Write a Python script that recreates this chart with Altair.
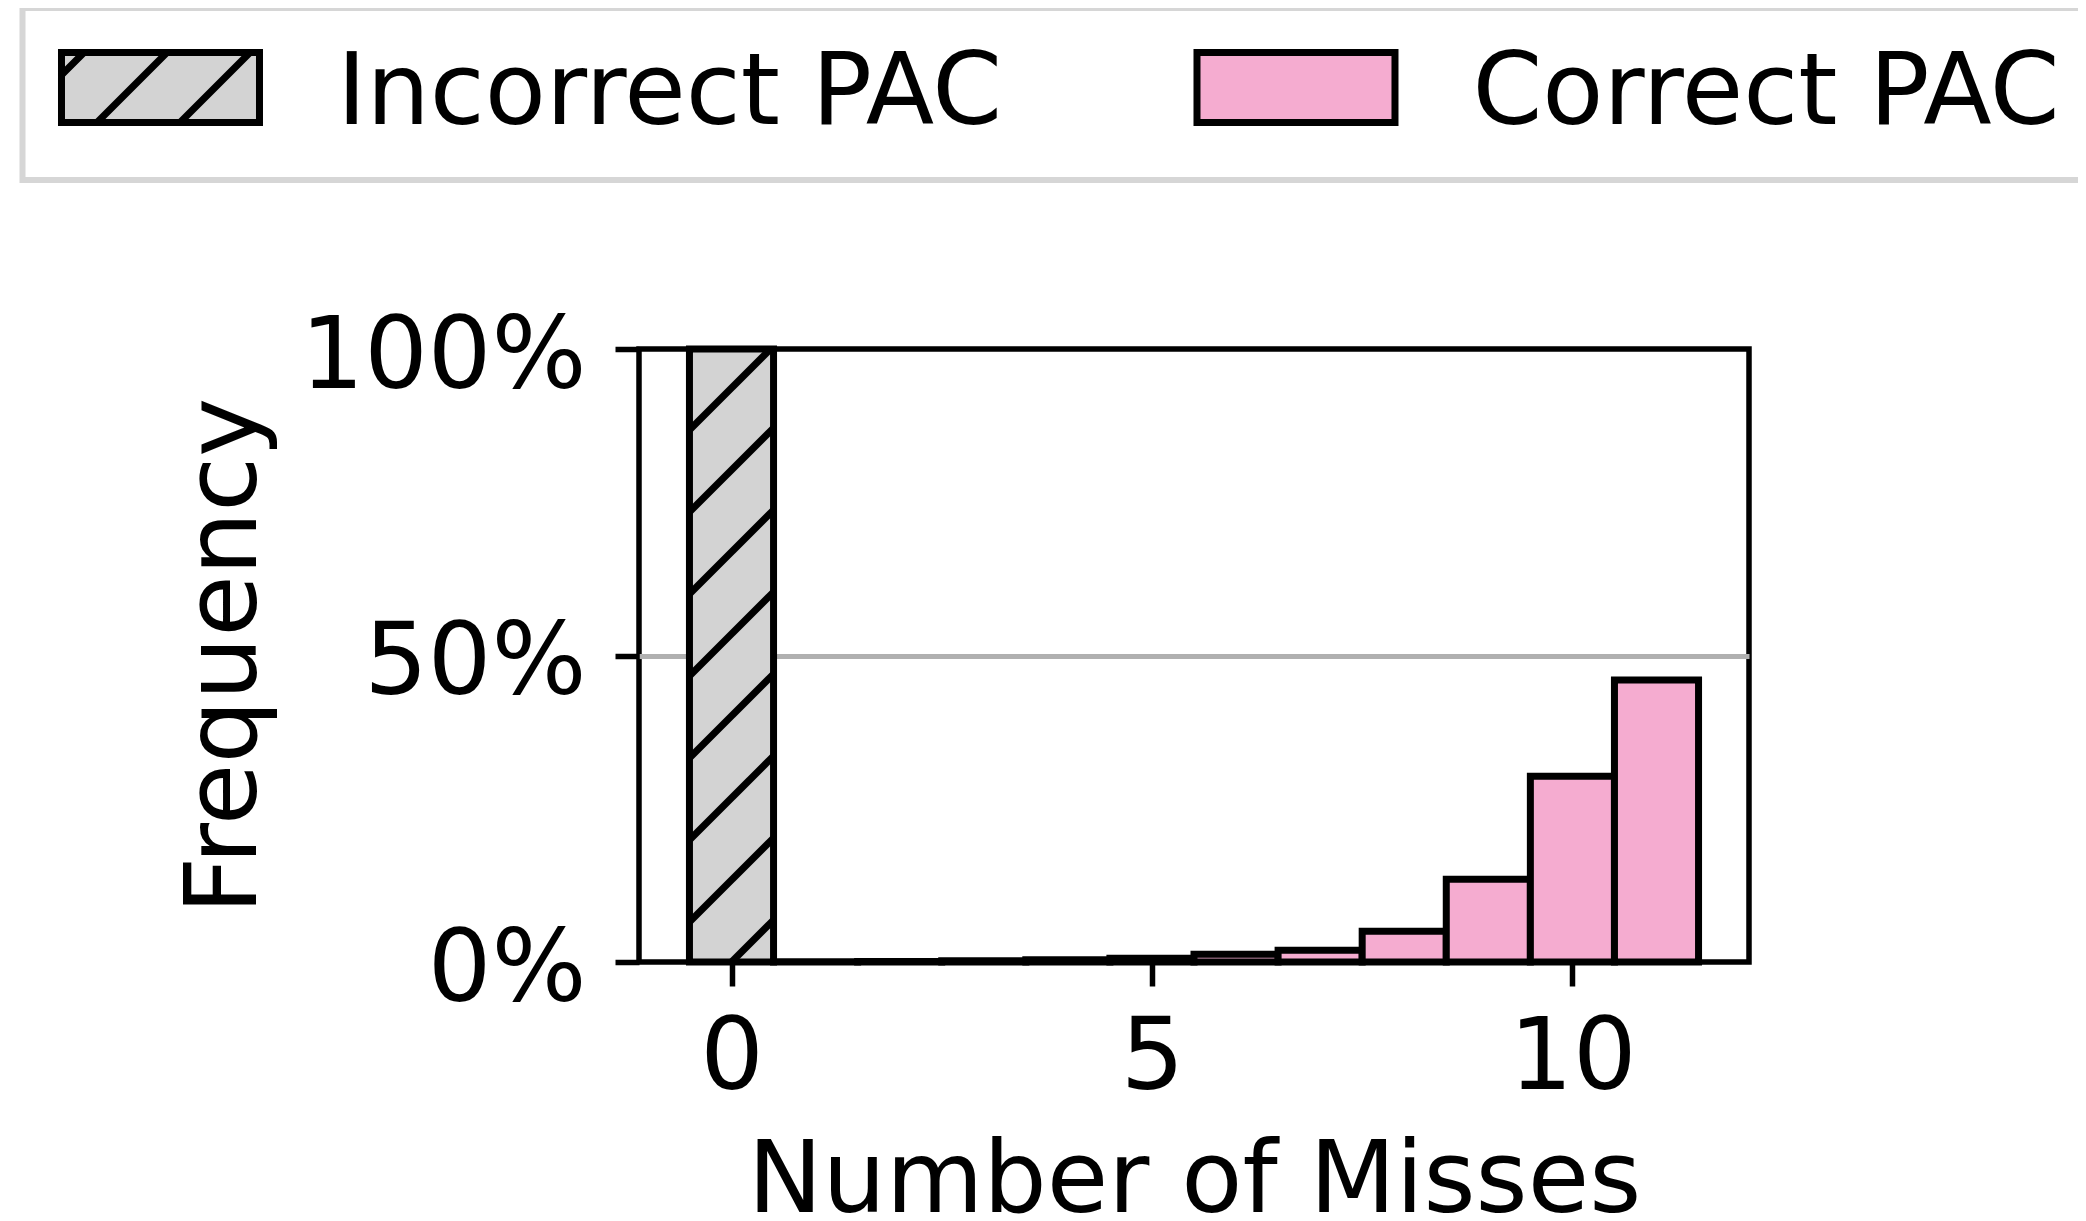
import math
import altair as alt
import pandas as pd

# ---------------- data ----------------
misses = list(range(12))
incorrect_pct = [100.0, 0, 0, 0, 0, 0, 0, 0, 0, 0, 0, 0]
correct_pct = [0.0, 0.05, 0.1, 0.2, 0.35, 0.6, 1.25, 1.9, 5.0, 13.5, 30.3, 46.0]
categories = ["Incorrect PAC", "Correct PAC"]
colors = ["#d3d3d3", "#f5acd0"]
x_ticks = [0, 5, 10]
y_ticks = [0, 50, 100]

rows = []
for m, a, b in zip(misses, incorrect_pct, correct_pct):
    if a > 0:
        rows.append({"miss": m, "cat": categories[0], "pct": a})
    if b > 0:
        rows.append({"miss": m, "cat": categories[1], "pct": b})
bars = pd.DataFrame(rows)

# ---------------- geometry / style ----------------
W, H = 1110, 613
XDOM = [-1.1, 12.1]
PX_X = W / (XDOM[1] - XDOM[0])
PX_Y = H / 100.0
HATCH_PX = 82
FONT = "DejaVu Sans"


def hatch(x_lo, x_hi, y_lo, y_hi, slope, spacing, x0):
    """segments of lines y = slope*(x-x0) + k*spacing clipped to a box"""
    segs = []
    kmin = math.floor((y_lo - slope * (x_hi - x0)) / spacing) - 1
    kmax = math.ceil((y_hi - slope * (x_lo - x0)) / spacing) + 1
    for k in range(kmin, kmax + 1):
        c = k * spacing
        xa = max(x_lo, x0 + (y_lo - c) / slope)
        xb = min(x_hi, x0 + (y_hi - c) / slope)
        if xb - xa > 1e-9:
            segs.append((xa, slope * (xa - x0) + c, xb, slope * (xb - x0) + c))
    return segs


# hatch of the incorrect-PAC bar (45 degrees on screen)
hrows = []
for _, r in bars[bars["cat"] == categories[0]].iterrows():
    for (xa, ya, xb, yb) in hatch(r["miss"] - 0.5, r["miss"] + 0.5, 0, r["pct"],
                                  PX_X / PX_Y, HATCH_PX / PX_Y, r["miss"]):
        hrows.append({"hx": xa, "hy": ya, "hx2": xb, "hy2": yb})
hdf = pd.DataFrame(hrows)

# legend swatch paths (symbol units: 35 px, centre of symbol at (108.5, 94))
S = 35.0
CX, CY = 108.5, 94.0
RX0, RX1, RY0, RY1 = 61.5, 259.5, 52.5, 122.5


def u(x, y):
    return f"{(x - CX) / S:.3f},{(y - CY) / S:.3f}"


rect_path = f"M{u(RX0, RY0)}L{u(RX1, RY0)}L{u(RX1, RY1)}L{u(RX0, RY1)}Z"
hpath = ""
for (xa, ya, xb, yb) in hatch(RX0, RX1, -RY1, -RY0, 1.0, 83.0, 97 + RY1):
    hpath += f"M{u(xa, -ya)}L{u(xb, -yb)}"
sym_expr = (f"datum.value == '{categories[0]}' ? '{rect_path}{hpath}' : '{rect_path}'")

# ---------------- chart ----------------
xscale = alt.Scale(domain=XDOM, nice=False, zero=False)
yscale = alt.Scale(domain=[0, 100], nice=False, zero=True)

x_axis = alt.Axis(values=x_ticks, format="d", title="Number of Misses",
                  grid=False, labelPadding=23, titlePadding=24, labelLimit=1000)
y_axis = alt.Axis(values=y_ticks, labelExpr="datum.value + '%'",
                  title="Frequency", grid=True, gridColor="#b0b0b0",
                  gridWidth=5,
                  gridOpacity=alt.condition("datum.value == 50",
                                            alt.value(1), alt.value(0)),
                  labelPadding=29, labelOffset=8, labelLimit=1000,
                  titleX=-363, titleY=H / 2, titleAngle=270,
                  titleBaseline="bottom", titleAlign="center")

legend = alt.Legend(
    title=None,
    orient="none",
    legendX=22.5 - 639,
    legendY=8 - 349,
    direction="horizontal",
    columns=2,
    columnPadding=179.5,
    padding=36,
    strokeColor="#d6d6d6",
    fillColor="white",
    cornerRadius=0,
    symbolType={"expr": sym_expr},
    symbolSize=S * S * 4,
    symbolStrokeWidth=7,
    symbolStrokeColor="black",
    symbolOffset=0,
    labelOffset=178.5,
    labelFont=FONT,
    labelFontSize=100,
    labelColor="black",
    labelLimit=3000,
)

bar_layer = (
    alt.Chart(bars)
    .transform_calculate(x0="datum.miss - 0.5", x1="datum.miss + 0.5")
    .mark_rect(stroke="black", strokeWidth=7)
    .encode(
        x=alt.X("x0:Q", scale=xscale, axis=x_axis),
        x2="x1:Q",
        y=alt.Y("pct:Q", scale=yscale, axis=y_axis),
        y2=alt.datum(0),
        fill=alt.Fill("cat:N", scale=alt.Scale(domain=categories, range=colors),
                      legend=legend),
    )
)

hatch_layer = (
    alt.Chart(hdf)
    .mark_rule(color="black", strokeWidth=7, strokeCap="butt")
    .encode(
        x=alt.X("hx:Q", scale=xscale, axis=x_axis),
        x2="hx2:Q",
        y=alt.Y("hy:Q", scale=yscale, axis=y_axis),
        y2="hy2:Q",
    )
)

chart = (
    alt.layer(bar_layer, hatch_layer)
    .properties(
        width=W,
        height=H,
        autosize=alt.AutoSizeParams(type="none"),
        padding={"left": 631, "top": 341, "right": 329, "bottom": 259},
        background="white",
    )
    .configure_view(stroke="black", strokeWidth=5.5)
    .configure_axis(
        domain=False,
        tickColor="black",
        tickWidth=5.5,
        tickSize=24,
        labelFont=FONT,
        labelFontSize=100,
        labelColor="black",
        titleFont=FONT,
        titleFontSize=100,
        titleFontWeight="normal",
        titleColor="black",
    )
    .configure_legend(strokeWidth=6)
)

chart.save("out.html", embed_options={"renderer": "svg", "actions": False})
